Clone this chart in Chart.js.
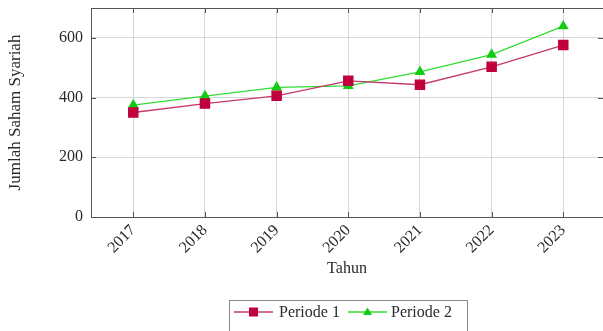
<!DOCTYPE html>
<html>
<head>
<meta charset="utf-8">
<script src="https://cdn.jsdelivr.net/npm/chart.js@4/dist/chart.umd.min.js"></script>
<style>
  html, body { margin: 0; padding: 0; background: #ffffff; }
  #wrap { width: 603px; height: 331px; position: relative; }
</style>
</head>
<body>
<div id="wrap"><canvas id="c" width="603" height="331"></canvas></div>
<script>
// Jumlah saham syariah per tahun
const years = [2017, 2018, 2019, 2020, 2021, 2022, 2023];
const periode1 = [350, 380, 406, 456, 443, 503, 576];
const periode2 = [375, 405, 434, 439, 486, 544, 639];
const yTicks = [0, 200, 400, 600];
const seriesLabels = ['Periode 1', 'Periode 2'];

const SERIF = "'Liberation Serif', 'DejaVu Serif', serif";
const TEXT = '#2a2a2a';
const GRID = '#d6d6d6';
const FRAME = '#555555';

const c1 = { line: '#c4386a', mark: '#c0003c' };
const c2 = { line: '#33dd33', mark: '#11cc11' };

// Full frame, inner tick marks and the boxed legend under the axes
const framePlugin = {
  id: 'frame',
  afterDraw(chart) {
    const { ctx, chartArea: a, scales } = chart;
    ctx.save();
    ctx.strokeStyle = FRAME;
    ctx.lineWidth = 1;
    ctx.beginPath();
    years.forEach(v => {
      const x = Math.round(scales.x.getPixelForValue(v)) + 0.5;
      ctx.moveTo(x, a.bottom); ctx.lineTo(x, a.bottom - 5);
      ctx.moveTo(x, a.top); ctx.lineTo(x, a.top + 5);
    });
    yTicks.forEach(v => {
      const y = Math.round(scales.y.getPixelForValue(v)) + 0.5;
      ctx.moveTo(a.left, y); ctx.lineTo(a.left + 5, y);
      ctx.moveTo(a.right, y); ctx.lineTo(a.right - 5, y);
    });
    ctx.stroke();
    // frame runs to the canvas edge on the right
    ctx.strokeRect(Math.round(a.left) + 0.5, Math.round(a.top) + 0.5,
                   Math.round(a.right - a.left) + 1, Math.round(a.bottom - a.top));

    // legend
    const lx = 229.5, ly = 300.5, lw = 238, lh = 36;
    ctx.strokeStyle = '#888888';
    ctx.strokeRect(lx, ly, lw, lh);
    const cy = 312;
    const items = [
      { x0: 234, col: c1, style: 'rect', tx: 279 },
      { x0: 348, col: c2, style: 'triangle', tx: 391 }
    ];
    ctx.font = '16px ' + SERIF;
    ctx.textBaseline = 'middle';
    ctx.textAlign = 'left';
    items.forEach((it, i) => {
      ctx.strokeStyle = it.col.line;
      ctx.lineWidth = 1.3;
      ctx.beginPath();
      ctx.moveTo(it.x0, cy); ctx.lineTo(it.x0 + 39, cy);
      ctx.stroke();
      ctx.fillStyle = it.col.mark;
      if (it.style === 'rect') {
        ctx.fillRect(it.x0 + 15, cy - 4.5, 9, 9);
      } else {
        ctx.beginPath();
        ctx.moveTo(it.x0 + 19.5, cy - 4.5);
        ctx.lineTo(it.x0 + 24, cy + 3);
        ctx.lineTo(it.x0 + 15, cy + 3);
        ctx.closePath();
        ctx.fill();
      }
      ctx.fillStyle = TEXT;
      ctx.fillText(seriesLabels[i], it.tx, cy + 1);
    });
    ctx.restore();
  }
};

new Chart(document.getElementById('c'), {
  type: 'line',
  data: {
    datasets: [
      {
        label: seriesLabels[0],
        data: years.map((y, i) => ({ x: y, y: periode1[i] })),
        borderColor: c1.line,
        backgroundColor: c1.mark,
        pointBackgroundColor: c1.mark,
        pointBorderColor: c1.mark,
        pointStyle: 'rect',
        pointRadius: 6.5,
        borderWidth: 1.3,
        tension: 0
      },
      {
        label: seriesLabels[1],
        data: years.map((y, i) => ({ x: y, y: periode2[i] })),
        borderColor: c2.line,
        backgroundColor: c2.mark,
        pointBackgroundColor: c2.mark,
        pointBorderColor: c2.mark,
        pointStyle: 'triangle',
        pointRadius: 5,
        borderWidth: 1.3,
        tension: 0
      }
    ]
  },
  options: {
    responsive: false,
    animation: false,
    events: [],
    layout: { autoPadding: false, padding: { top: 8, left: 0, right: 0, bottom: 0 } },
    plugins: { legend: { display: false }, tooltip: { enabled: false } },
    scales: {
      x: {
        type: 'linear',
        min: 2016.41,
        max: 2023.554,
        afterFit(s) { s.height = 114; s.paddingLeft = 0; s.paddingRight = 0; },
        afterBuildTicks(s) { s.ticks = years.map(v => ({ value: v })); },
        grid: { color: GRID, drawTicks: false, lineWidth: 1 },
        border: { color: FRAME, width: 1 },
        ticks: {
          color: TEXT,
          font: { family: SERIF, size: 16 },
          minRotation: 45,
          maxRotation: 45,
          padding: 4,
          autoSkip: false,
          callback: v => String(v)
        },
        title: {
          display: true,
          text: 'Tahun',
          color: TEXT,
          font: { family: SERIF, size: 16 },
          padding: { top: 0, bottom: 53 }
        }
      },
      y: {
        min: 0,
        max: 700,
        afterFit(s) { s.width = 91; s.paddingTop = 0; s.paddingBottom = 0; },
        afterBuildTicks(s) { s.ticks = yTicks.map(v => ({ value: v })); },
        grid: { color: GRID, drawTicks: false, lineWidth: 1 },
        border: { color: FRAME, width: 1 },
        ticks: {
          color: TEXT,
          font: { family: SERIF, size: 16 },
          padding: 8,
          callback: v => String(v)
        },
        title: {
          display: true,
          text: 'Jumlah Saham Syariah',
          color: TEXT,
          font: { family: SERIF, size: 17 },
          padding: { top: 5, bottom: 0 }
        }
      }
    }
  },
  plugins: [framePlugin]
});
</script>
</body>
</html>
